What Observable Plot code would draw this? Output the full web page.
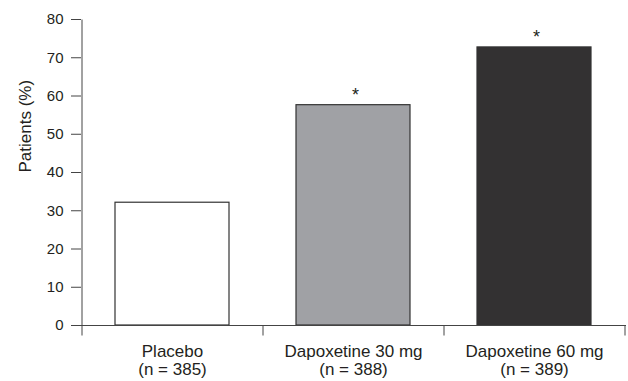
<!DOCTYPE html>
<html><head><meta charset="utf-8">
<script src="https://cdn.jsdelivr.net/npm/d3@7"></script>
<script src="https://cdn.jsdelivr.net/npm/@observablehq/plot@0.6"></script>
<style>body{margin:0;background:#fff;} svg{display:block;}</style>
</head><body><div id="chart"></div>
<script>
const groups = ["Placebo", "Dapoxetine 30 mg", "Dapoxetine 60 mg"];
const sampleSizes = ["n = 385", "n = 388", "n = 389"];
const patientsPct = [32.1, 57.6, 72.7];
const significant = [false, true, true];
const yTicks = [0, 10, 20, 30, 40, 50, 60, 70, 80];
const yLabel = "Patients (%)";

const data = groups.map((g, i) => ({group: g, n: sampleSizes[i], value: patientsPct[i], sig: significant[i]}));

const axisColor = "#444";
const plot = Plot.plot({
  width: 628, height: 381,
  marginLeft: 81, marginRight: 2, marginTop: 19, marginBottom: 56,
  style: {fontFamily: "'Liberation Sans', Arial, sans-serif", color: "#231f20", background: "#fff"},
  x: {domain: groups, paddingInner: 0.37, paddingOuter: 0.185, label: null},
  y: {domain: [0, 80], label: null},
  color: {domain: groups, range: ["#ffffff", "#a0a1a5", "#333132"]},
  marks: [
    Plot.barY(data, {x: "group", y: "value", fill: "group", stroke: "#333", strokeWidth: 1.2}),
    Plot.ruleY([0], {stroke: axisColor}),
    Plot.text(data.filter(d => d.sig), {x: "group", y: "value", text: () => "*", lineAnchor: "bottom", dy: -4, dx: 2, fontSize: 18}),
    Plot.axisY({ticks: yTicks, tickSize: 10, tickPadding: 8, fontSize: 15, label: null, stroke: axisColor}),
    Plot.axisX({tickSize: 0, tickPadding: 18, fontSize: 17, lineHeight: 1.08,
      tickFormat: g => `${g}\n(${sampleSizes[groups.indexOf(g)]})`, label: null}),
    Plot.text([yLabel], {frameAnchor: "left", rotate: -90, dx: -55.5, fontSize: 17, text: d => d})
  ]
});

const svg = d3.select(plot);
const sx = plot.scale("x"), sy = plot.scale("y");
const y0 = sy.apply(0), yTop = sy.apply(yTicks[yTicks.length - 1]);
const step = sx.apply(groups[1]) - sx.apply(groups[0]);
const bandwidth = sx.bandwidth ?? step * (1 - 0.37);
const left = sx.apply(groups[0]) - (step - bandwidth) / 2;
const bounds = d3.range(groups.length + 1).map(i => left + i * step);
const g = svg.append("g").attr("stroke", axisColor).attr("transform", "translate(0.5,0.5)");
g.selectAll("line.sep").data(bounds).join("line").attr("class", "sep")
  .attr("x1", d => d).attr("x2", d => d).attr("y1", y0).attr("y2", y0 + 10);
g.append("line").attr("x1", left).attr("x2", left).attr("y1", yTop).attr("y2", y0);

document.getElementById("chart").appendChild(plot);
</script>
</body></html>
